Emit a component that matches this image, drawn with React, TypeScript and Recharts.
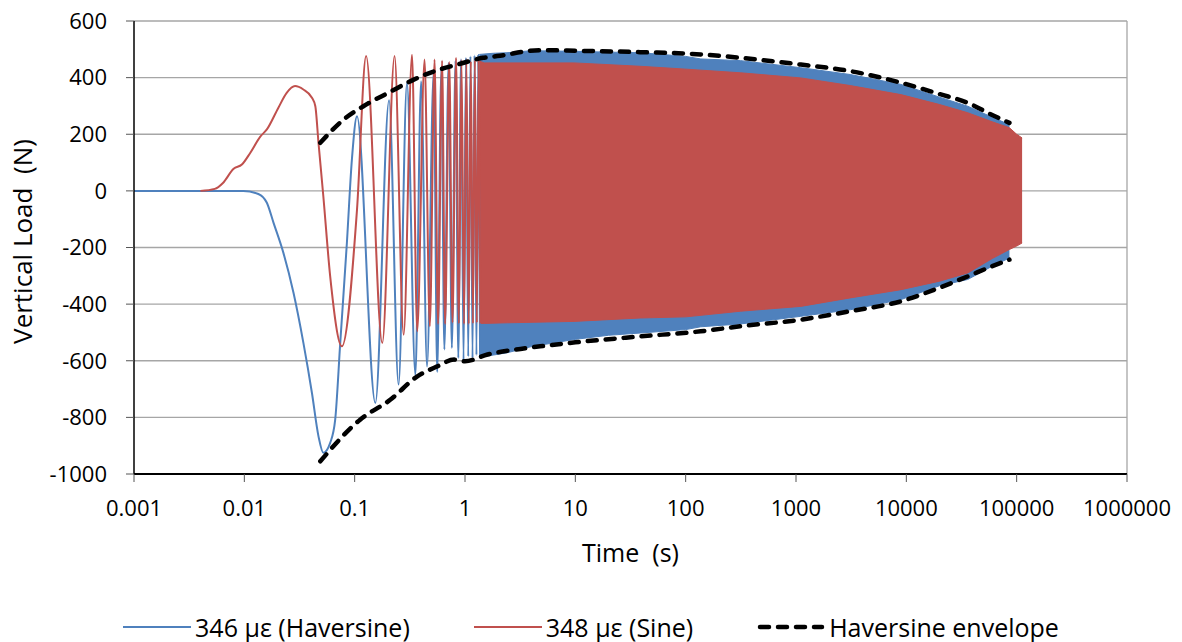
import React from 'react';
import { ComposedChart, Line, Area, XAxis, YAxis, CartesianGrid, ReferenceLine } from 'recharts';

const BLUE = '#4F81BD';
const RED = '#C0504D';
const FONT = '"Open Sans", sans-serif';

// x tick labels (log scale, seconds)
const timeTicks = [0.001, 0.01, 0.1, 1, 10, 100, 1000, 10000, 100000, 1000000];
const loadTicks = [-1000, -800, -600, -400, -200, 0, 200, 400, 600];

// 346 µε (Haversine) - individual early cycles
const blueEarlyT = [0.001, 0.003, 0.0098, 0.0134, 0.016, 0.0184, 0.0226, 0.0279, 0.0343, 0.041, 0.047, 0.052, 0.06, 0.0666, 0.074, 0.085, 0.0944, 0.105, 0.154, 0.205, 0.25, 0.298, 0.355, 0.4, 0.453, 0.52, 0.56, 0.61, 0.65, 0.71, 0.76, 0.82, 0.87, 0.92, 0.97, 1.02, 1.07, 1.12, 1.17, 1.22, 1.27, 1.32, 1.37];
const blueEarlyV = [0, 0, 0, -11, -42, -113, -219, -360, -537, -714, -867, -925, -890, -808, -537, -184, 111, 264, -749, 320, -684, 382, -650, 387, -620, 417, -640, 430, -560, 452, -555, 460, -590, 465, -600, 470, -585, 475, -590, 478, -580, 480, -585];

// 348 µε (Sine) - individual early cycles
const redEarlyT = [0.004, 0.0054, 0.0064, 0.008, 0.0095, 0.0113, 0.0139, 0.016, 0.0203, 0.0242, 0.0288, 0.0343, 0.041, 0.044, 0.047, 0.052, 0.06, 0.0766, 0.105, 0.127, 0.178, 0.23, 0.278, 0.331, 0.369, 0.43, 0.48, 0.53, 0.57, 0.62, 0.66, 0.72, 0.77, 0.83, 0.88, 0.93, 0.98, 1.03, 1.08, 1.13, 1.18, 1.23, 1.28, 1.33, 1.38];
const redEarlyV = [0, 7, 28, 78, 93, 134, 191, 217, 293, 346, 370, 358, 329, 299, 170, -19, -302, -549, -66, 476, -537, 476, -508, 481, -496, 464, -478, 464, -470, 460, -470, 455, -465, 470, -468, 462, -470, 465, -470, 458, -468, 462, -466, 460, -468];

// dense cycling region, read as min / max of the oscillation band
const blueBandT = [1.35, 1.8, 2.4, 4, 9.7, 20, 39, 100, 137, 315, 1106, 3100, 8930, 20000, 36000, 60000, 86000];
const blueBandLow = [-588, -580, -572, -550, -525, -510, -502, -490, -480, -470, -443, -420, -384, -335, -313, -266, -237];
const blueBandHigh = [482, 486, 488, 495, 493, 490, 488, 475, 466, 460, 435, 411, 376, 331, 299, 260, 234];

const redBandT = [1.35, 1.5, 2.4, 9.7, 39, 100, 315, 1106, 3100, 8930, 20000, 36000, 60000, 86000, 100000, 112000];
const redBandLow = [-468, -468, -466, -461, -449, -445, -425, -408, -378, -349, -319, -290, -239, -207, -195, -184];
const redBandHigh = [458, 452, 452, 452, 440, 430, 417, 399, 372, 340, 305, 276, 244, 223, 200, 187];

// Haversine envelope
const envUpperT = [0.0488, 0.0795, 0.12, 0.21, 0.343, 0.56, 0.85, 1.46, 1.96, 4.8, 10, 39, 137, 315, 1106, 3100, 8930, 20000, 36000, 60000, 86000];
const envUpperV = [170, 252, 299, 350, 393, 426, 446, 470, 476, 497, 495, 490, 482, 470, 446, 423, 382, 342, 311, 268, 240];
const envLowerT = [0.0488, 0.112, 0.21, 0.37, 0.56, 0.8, 1.0, 1.6, 2.8, 4.8, 10, 39, 137, 315, 1106, 3100, 8930, 20000, 36000, 60000, 86000];
const envLowerV = [-955, -808, -738, -655, -620, -596, -602, -578, -561, -549, -535, -514, -496, -478, -455, -425, -390, -342, -302, -266, -243];

const toPoints = (t: number[], v: number[]) => t.map((x, i) => ({ t: x, v: v[i] }));
const toBand = (t: number[], lo: number[], hi: number[]) => t.map((x, i) => ({ t: x, range: [lo[i], hi[i]] }));

const blueEarly = toPoints(blueEarlyT, blueEarlyV);
const redEarly = toPoints(redEarlyT, redEarlyV);
const blueBand = toBand(blueBandT, blueBandLow, blueBandHigh);
const redBand = toBand(redBandT, redBandLow, redBandHigh);
const envUpper = toPoints(envUpperT, envUpperV);
const envLower = toPoints(envLowerT, envLowerV);

const legendItems = [
    { label: '346 με (Haversine)', color: BLUE, dashed: false },
    { label: '348 με (Sine)', color: RED, dashed: false },
    { label: 'Haversine envelope', color: '#000', dashed: true },
];

const YTitle = (props: any) => {
    const { viewBox } = props;
    const x = viewBox.x + 22;
    const y = viewBox.y + viewBox.height / 2 - 6;
    return (
        <text x={x} y={y} transform={`rotate(-90 ${x} ${y})`} textAnchor="middle" dominantBaseline="central"
            fontSize={26} fontFamily={FONT} fill="#000" style={{ whiteSpace: 'pre' }}>
            Vertical Load  (N)
        </text>
    );
};

const XTitle = (props: any) => {
    const { viewBox } = props;
    const x = viewBox.x + viewBox.width / 2;
    return (
        <text x={x} y={viewBox.y + 78} textAnchor="middle" dominantBaseline="central"
            fontSize={25} fontFamily={FONT} fill="#000" style={{ whiteSpace: 'pre' }}>
            Time  (s)
        </text>
    );
};

export default function App() {
    return (
        <div style={{ position: 'absolute', left: 0, top: 0, width: 1182, height: 642, background: '#fff' }}>
            <ComposedChart width={1182} height={642} margin={{ top: 21, right: 55, left: 0, bottom: 78 }}>
                <CartesianGrid vertical={false} stroke="#A6A6A6" strokeWidth={1.3} />
                <XAxis
                    dataKey="t"
                    type="number"
                    scale="log"
                    domain={[0.001, 1000000]}
                    ticks={timeTicks}
                    allowDataOverflow
                    height={90}
                    tickSize={8}
                    tickMargin={18}
                    tickFormatter={(v: number) => String(v)}
                    tick={{ fontSize: 22, fontFamily: FONT, fill: '#000' }}
                    axisLine={{ stroke: '#000', strokeWidth: 2 }}
                    tickLine={{ stroke: '#555' }}
                    label={<XTitle />}
                />
                <YAxis
                    type="number"
                    domain={[-1000, 600]}
                    ticks={loadTicks}
                    width={134}
                    tickSize={8}
                    tickMargin={19}
                    tick={{ fontSize: 22, fontFamily: FONT, fill: '#000' }}
                    axisLine={{ stroke: '#000', strokeWidth: 1.5 }}
                    tickLine={{ stroke: '#555' }}
                    label={<YTitle />}
                />
                <ReferenceLine x={1000000} stroke="#A6A6A6" strokeWidth={1.3} />

                <Area data={blueBand} dataKey="range" type="linear" stroke={BLUE} strokeWidth={1} fill={BLUE} fillOpacity={1} isAnimationActive={false} />
                <Line data={blueEarly} dataKey="v" type="monotone" stroke={BLUE} strokeWidth={2} dot={false} isAnimationActive={false} />
                <Area data={redBand} dataKey="range" type="linear" stroke={RED} strokeWidth={1} fill={RED} fillOpacity={1} isAnimationActive={false} />
                <Line data={redEarly} dataKey="v" type="monotone" stroke={RED} strokeWidth={2} dot={false} isAnimationActive={false} />

                <Line data={envUpper} dataKey="v" type="monotone" stroke="#000" strokeWidth={4.5} strokeDasharray="9 9" strokeLinecap="round" dot={false} isAnimationActive={false} />
                <Line data={envLower} dataKey="v" type="monotone" stroke="#000" strokeWidth={4.5} strokeDasharray="9 9" strokeLinecap="round" dot={false} isAnimationActive={false} />
            </ComposedChart>

            <div style={{ position: 'absolute', left: 0, top: 610, width: 1182, display: 'flex', justifyContent: 'center', gap: 64, fontFamily: FONT, fontSize: 25, color: '#000' }}>
                {legendItems.map((item) => (
                    <div key={item.label} style={{ display: 'flex', alignItems: 'center', gap: 4, whiteSpace: 'pre' }}>
                        <svg width={68} height={8}>
                            <line x1={item.dashed ? 3 : 0} y1={4} x2={item.dashed ? 65 : 68} y2={4} stroke={item.color}
                                strokeWidth={item.dashed ? 4.5 : 2} strokeDasharray={item.dashed ? '9 9' : undefined}
                                strokeLinecap={item.dashed ? 'round' : 'butt'} />
                        </svg>
                        <span>{item.label}</span>
                    </div>
                ))}
            </div>
        </div>
    );
}
